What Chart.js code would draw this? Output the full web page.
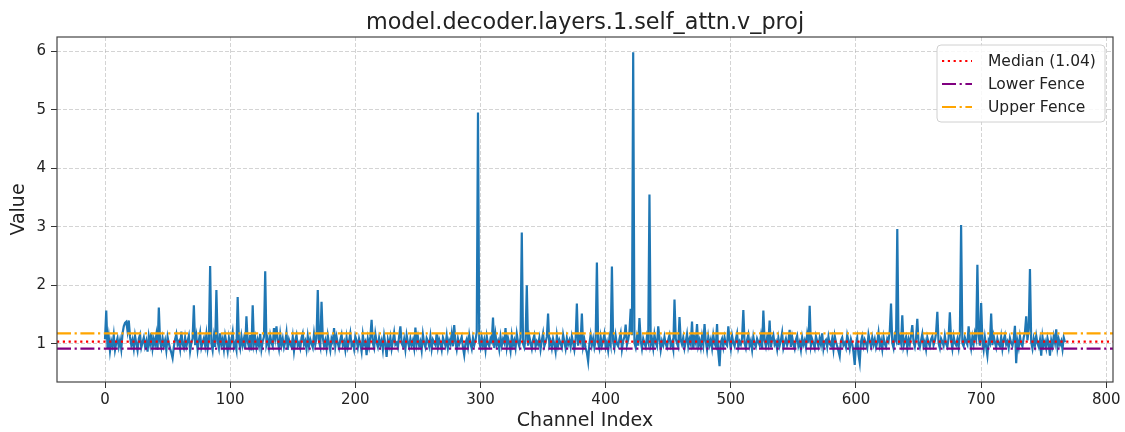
<!DOCTYPE html>
<html lang="en">
<head>
    <meta charset="UTF-8">
    <title>model.decoder.layers.1.self_attn.v_proj</title>
    <script src="https://cdn.jsdelivr.net/npm/chart.js"></script>
    <style>
        body {
            margin: 0;
            background: #ffffff;
        }
        canvas {
            display: block;
        }
    </style>
</head>
<body>
    <canvas id="channelChart" width="1125" height="432"></canvas>

    <script>
        // values per channel (0..767)
        const channelValues = [
            1.08, 1.57, 0.93, 1.12, 0.88, 1.05, 0.97, 1.15, 0.90, 1.02, 1.10, 0.95, 1.06, 0.91, 1.18, 1.30,
            1.36, 1.38, 1.22, 1.40, 1.12, 0.98, 1.07, 0.92, 1.14, 1.01, 0.89, 1.09, 1.16, 0.94, 1.03, 1.11,
            0.96, 1.05, 0.87, 1.13, 1.00, 1.19, 0.93, 1.08, 0.99, 1.15, 0.90, 1.62, 1.04, 0.94, 1.10, 0.97,
            1.06, 0.89, 1.12, 1.01, 0.92, 0.85, 0.76, 0.95, 1.08, 1.17, 0.99, 1.04, 0.91, 1.21, 1.00, 0.93,
            1.11, 0.96, 1.05, 1.14, 0.88, 1.02, 1.09, 1.66, 0.98, 1.13, 0.90, 1.06, 1.19, 0.94, 1.03, 1.10,
            0.97, 1.16, 0.92, 1.07, 2.33, 1.01, 0.89, 1.12, 0.95, 1.92, 1.04, 0.93, 1.18, 0.99, 1.08, 0.91,
            1.14, 1.02, 0.88, 1.10, 0.96, 1.06, 1.20, 0.94, 1.01, 0.90, 1.80, 1.05, 0.93, 1.13, 0.98, 1.09,
            0.92, 1.47, 1.03, 0.95, 1.15, 0.89, 1.66, 1.00, 1.11, 0.94, 1.07, 0.97, 1.17, 0.91, 1.04, 1.12,
            2.24, 0.99, 1.08, 0.93, 1.14, 1.02, 0.96, 1.27, 1.10, 1.30, 1.05, 0.92, 1.16, 0.98, 1.09, 0.94,
            1.03, 1.19, 0.90, 1.07, 1.00, 0.95, 1.12, 0.88, 1.06, 1.15, 0.97, 1.02, 0.93, 1.10, 1.18, 0.99,
            1.05, 0.91, 1.13, 0.96, 1.08, 1.01, 0.94, 1.17, 0.99, 1.10, 1.92, 1.04, 0.95, 1.72, 1.11, 0.97,
            1.06, 0.92, 1.14, 1.00, 0.89, 1.09, 1.03, 1.27, 0.96, 1.12, 1.01, 0.93, 1.07, 1.16, 0.98, 1.04,
            0.90, 1.11, 0.95, 1.05, 1.18, 0.97, 1.02, 0.91, 1.13, 1.06, 0.94, 1.09, 1.00, 0.87, 1.15, 0.99,
            1.04, 0.81, 1.08, 0.96, 1.12, 1.41, 1.01, 0.93, 1.17, 1.03, 0.95, 1.10, 0.98, 1.06, 0.90, 1.14,
            1.00, 0.78, 1.07, 0.97, 1.11, 0.92, 1.05, 1.19, 0.99, 1.02, 0.94, 1.13, 1.30, 1.01, 0.96, 1.08,
            0.91, 1.15, 1.03, 0.95, 1.09, 0.98, 1.06, 0.93, 1.28, 1.00, 1.12, 0.97, 1.04, 0.89, 1.16, 1.01,
            0.94, 1.10, 1.05, 0.96, 1.13, 0.92, 1.07, 1.02, 0.98, 1.18, 0.95, 1.08, 1.01, 0.90, 1.11, 1.04,
            0.97, 1.14, 0.93, 1.06, 1.00, 1.17, 0.96, 1.32, 1.03, 0.91, 1.09, 0.99, 1.05, 1.12, 0.94, 0.81,
            1.02, 1.08, 0.95, 1.15, 1.01, 0.92, 1.10, 0.98, 1.06, 1.20, 4.95, 1.03, 0.94, 1.11, 0.97, 1.07,
            0.90, 1.13, 1.00, 0.96, 1.09, 1.04, 1.45, 0.93, 1.16, 0.99, 1.05, 0.91, 1.12, 0.97, 1.08, 1.02,
            1.27, 0.95, 1.10, 1.01, 0.88, 1.14, 0.98, 1.06, 0.93, 1.17, 1.03, 0.96, 1.11, 2.90, 1.00, 0.94,
            1.08, 2.00, 0.97, 1.13, 1.02, 0.92, 1.07, 1.15, 0.95, 1.04, 0.99, 1.10, 0.91, 1.06, 1.18, 0.96,
            1.03, 1.12, 1.52, 0.98, 1.05, 0.93, 1.09, 1.00, 0.87, 1.14, 0.97, 1.07, 1.01, 0.94, 1.16, 1.04,
            0.92, 1.10, 0.99, 1.06, 0.95, 1.13, 1.02, 0.90, 1.08, 1.69, 0.97, 1.11, 1.04, 1.52, 0.96, 1.07,
            0.93, 0.85, 0.70, 1.00, 1.15, 0.98, 1.09, 0.94, 1.05, 2.39, 1.01, 0.92, 1.12, 0.97, 1.06, 1.17,
            0.95, 1.03, 0.89, 1.10, 0.99, 2.32, 1.04, 0.93, 1.14, 1.00, 0.96, 1.08, 1.18, 0.91, 1.05, 1.12,
            1.33, 0.98, 1.07, 1.20, 1.60, 1.15, 5.98, 1.02, 0.94, 1.11, 0.97, 1.44, 1.06, 0.92, 1.09, 1.01,
            0.95, 1.13, 1.04, 3.55, 0.99, 1.08, 0.93, 1.16, 1.02, 0.96, 1.30, 1.10, 0.90, 1.05, 0.98, 1.12,
            1.00, 0.94, 1.07, 1.15, 0.97, 1.03, 0.91, 1.76, 1.09, 1.01, 0.95, 1.46, 1.06, 0.99, 1.11, 0.93,
            1.04, 1.17, 0.96, 1.08, 1.00, 1.38, 0.92, 1.10, 1.02, 1.34, 0.97, 1.06, 0.94, 1.13, 0.99, 1.34,
            1.05, 0.90, 1.12, 0.98, 1.07, 0.93, 1.15, 1.01, 0.96, 1.34, 0.85, 0.62, 1.03, 1.09, 0.95, 1.11,
            1.00, 0.97, 1.30, 1.06, 0.92, 1.14, 1.02, 0.96, 1.08, 1.18, 0.94, 1.04, 0.99, 1.10, 1.58, 1.01,
            0.93, 1.07, 1.16, 0.97, 1.05, 0.90, 1.12, 1.00, 0.95, 1.09, 1.03, 0.98, 1.13, 0.92, 1.57, 1.06,
            0.96, 1.11, 1.01, 1.40, 0.94, 1.08, 1.15, 0.99, 1.04, 0.91, 1.10, 0.97, 1.06, 1.19, 0.93, 1.02,
            1.09, 0.98, 1.05, 1.24, 0.95, 1.12, 1.00, 0.92, 1.07, 1.14, 0.96, 1.03, 0.90, 1.11, 0.99, 1.06,
            0.94, 1.16, 1.02, 1.65, 0.97, 1.08, 1.01, 0.93, 1.13, 1.05, 0.96, 1.10, 0.99, 1.18, 0.92, 1.04,
            1.07, 0.95, 1.12, 1.00, 0.97, 1.09, 0.91, 1.14, 1.03, 0.96, 0.88, 0.79, 1.06, 1.11, 0.98, 1.02,
            0.94, 1.15, 1.05, 0.92, 1.08, 1.00, 0.86, 0.64, 0.99, 1.10, 0.82, 0.68, 1.04, 1.13, 0.97, 1.07,
            1.01, 0.93, 1.16, 1.05, 0.96, 1.11, 0.99, 1.08, 0.94, 1.03, 1.19, 0.97, 1.06, 0.91, 1.12, 1.00,
            0.95, 1.09, 1.04, 1.22, 1.69, 1.02, 0.93, 1.14, 1.07, 2.96, 0.98, 1.10, 1.01, 1.49, 0.96, 1.05,
            1.12, 0.92, 1.08, 0.99, 1.15, 1.32, 1.03, 0.95, 1.10, 1.43, 1.00, 0.94, 1.06, 1.17, 0.97, 1.04,
            0.91, 1.11, 1.02, 0.96, 1.08, 1.13, 0.98, 1.05, 1.19, 1.55, 1.01, 0.93, 1.09, 1.04, 0.97, 1.14,
            1.00, 0.95, 1.10, 1.54, 1.06, 0.92, 1.13, 1.02, 0.98, 1.08, 0.94, 1.16, 3.03, 1.01, 0.96, 1.11,
            1.04, 0.99, 1.30, 1.07, 0.93, 1.12, 1.00, 1.18, 1.09, 2.35, 1.15, 0.97, 1.70, 1.05, 0.90, 1.11,
            0.95, 0.80, 1.06, 1.01, 1.52, 0.98, 1.14, 1.03, 0.94, 1.09, 1.00, 0.96, 1.12, 0.92, 1.07, 1.15,
            0.99, 1.04, 0.93, 1.10, 1.02, 0.97, 1.08, 1.31, 0.67, 1.05, 0.94, 1.13, 1.00, 0.96, 1.11, 1.20,
            1.47, 1.06, 1.25, 2.28, 1.03, 0.92, 1.09, 0.98, 1.14, 1.01, 0.95, 1.07, 0.80, 1.12, 0.97, 1.04,
            0.93, 1.10, 1.00, 0.80, 1.06, 0.96, 1.13, 1.02, 1.25, 0.94, 1.08, 0.99, 1.05, 0.91, 1.11, 1.03
        ];

        const medianValue = 1.04;
        const lowerFence = 0.92;
        const upperFence = 1.18;

        const xTicks = [0, 100, 200, 300, 400, 500, 600, 700, 800];
        const yTicks = [1, 2, 3, 4, 5, 6];
        const xLimits = [-38.35, 805.35];
        const yLimits = [0.35, 6.24];

        Chart.defaults.font.family = "'DejaVu Sans', sans-serif";
        Chart.defaults.color = '#222';

        const points = channelValues.map((v, i) => ({ x: i, y: v }));
        const hline = y => [{ x: xLimits[0], y: y }, { x: xLimits[1], y: y }];

        // title, frame and legend box drawn by hand (matplotlib look)
        const decorPlugin = {
            id: 'decor',
            afterDraw(chart) {
                const ctx = chart.ctx;
                const area = chart.chartArea;
                ctx.save();

                ctx.fillStyle = '#222';
                ctx.font = "22.3px 'DejaVu Sans'";
                ctx.textAlign = 'center';
                ctx.textBaseline = 'alphabetic';
                ctx.fillText('model.decoder.layers.1.self_attn.v_proj', (area.left + area.right) / 2, 29);

                ctx.strokeStyle = '#444';
                ctx.lineWidth = 1.2;
                ctx.strokeRect(area.left, area.top, area.right - area.left, area.bottom - area.top);

                // legend
                const items = chart.data.datasets.filter(d => d.inLegend);
                const bx = 937, by = 45, bw = 168, bh = 77;
                ctx.beginPath();
                ctx.roundRect(bx, by, bw, bh, 4);
                ctx.fillStyle = 'rgba(255,255,255,0.85)';
                ctx.fill();
                ctx.strokeStyle = '#d0d0d0';
                ctx.lineWidth = 1;
                ctx.stroke();

                ctx.font = "15.5px 'DejaVu Sans'";
                ctx.textAlign = 'left';
                ctx.textBaseline = 'middle';
                items.forEach((d, i) => {
                    const y = 61 + i * 23;
                    ctx.beginPath();
                    ctx.setLineDash(d.borderDash);
                    ctx.strokeStyle = d.borderColor;
                    ctx.lineWidth = d.borderWidth;
                    ctx.moveTo(942, y);
                    ctx.lineTo(972, y);
                    ctx.stroke();
                    ctx.setLineDash([]);
                    ctx.fillStyle = '#222';
                    ctx.fillText(d.label, 988, y + 1);
                });
                ctx.restore();
            }
        };

        const gridStyle = { color: 'rgba(176,176,176,0.55)', tickLength: 6, tickColor: '#333', tickBorderDash: [] };

        new Chart(document.getElementById('channelChart'), {
            type: 'line',
            data: {
                datasets: [
                    {
                        label: 'Median (' + medianValue.toFixed(2) + ')',
                        data: hline(medianValue),
                        borderColor: '#ff0000',
                        borderWidth: 2.2,
                        borderDash: [2.2, 3.6],
                        pointRadius: 0,
                        inLegend: true,
                        order: 1
                    },
                    {
                        label: 'Lower Fence',
                        data: hline(lowerFence),
                        borderColor: '#800080',
                        borderWidth: 2.2,
                        borderDash: [14, 3.6, 2.2, 3.6],
                        pointRadius: 0,
                        inLegend: true,
                        order: 1
                    },
                    {
                        label: 'Upper Fence',
                        data: hline(upperFence),
                        borderColor: '#ffa500',
                        borderWidth: 2.2,
                        borderDash: [14, 3.6, 2.2, 3.6],
                        pointRadius: 0,
                        inLegend: true,
                        order: 1
                    },
                    {
                        label: 'Value',
                        data: points,
                        borderColor: '#1f77b4',
                        borderWidth: 2.2,
                        pointRadius: 0,
                        tension: 0,
                        order: 2
                    }
                ]
            },
            options: {
                responsive: false,
                animation: false,
                devicePixelRatio: 1,
                layout: { padding: { top: 37, right: 12, left: 0, bottom: 0 } },
                scales: {
                    x: {
                        type: 'linear',
                        min: xLimits[0],
                        max: xLimits[1],
                        afterBuildTicks: scale => { scale.ticks = xTicks.map(v => ({ value: v })); },
                        afterFit: scale => { scale.height = 50; },
                        ticks: { font: { size: 15 }, color: '#222', padding: 3, maxRotation: 0 },
                        grid: gridStyle,
                        border: { display: false, dash: [4, 2] },
                        title: { display: true, text: 'Channel Index', font: { size: 19 }, color: '#222', padding: 0 }
                    },
                    y: {
                        min: yLimits[0],
                        max: yLimits[1],
                        afterBuildTicks: scale => { scale.ticks = yTicks.map(v => ({ value: v })); },
                        afterFit: scale => { scale.width = 57; },
                        ticks: { font: { size: 15 }, color: '#222', padding: 5 },
                        grid: gridStyle,
                        border: { display: false, dash: [4, 2] },
                        title: { display: true, text: 'Value', font: { size: 19 }, color: '#222', padding: { top: 8, bottom: 0 } }
                    }
                },
                plugins: {
                    legend: { display: false },
                    title: { display: false },
                    tooltip: { enabled: false }
                }
            },
            plugins: [decorPlugin]
        });
    </script>
</body>
</html>
